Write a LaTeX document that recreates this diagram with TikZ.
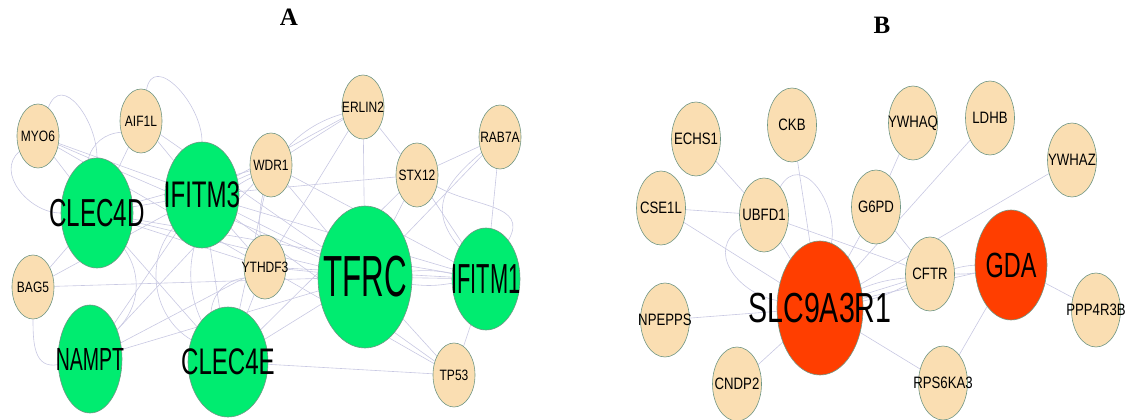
\documentclass[tikz,border=0pt]{standalone}
\usepackage{fontspec}
\setmainfont{Liberation Serif}
\newfontfamily\labfont{Liberation Sans}
\usetikzlibrary{shapes.geometric,backgrounds}

\definecolor{beige}{RGB}{250,222,178}
\definecolor{rim}{RGB}{112,150,132}
\definecolor{lime}{RGB}{0,236,112}
\definecolor{hot}{RGB}{255,62,0}
\definecolor{wire}{RGB}{200,200,226}

% gene label: condensed, does not widen its ellipse
\newcommand\gl[2][0.8]{\makebox[0pt]{\scalebox{#1}[1]{#2}}}
\newcommand\fs[1]{\labfont\fontsize{#1}{#1}\selectfont}

\begin{document}
\begin{tikzpicture}[x=1pt,y=-1pt,
  gene/.style={ellipse, draw=rim, line width=0.6pt, inner sep=0pt},
  sa/.style={gene, fill=beige, minimum width=42pt, minimum height=64pt, font=\fs{15}},
  sb/.style={gene, fill=beige, minimum width=49pt, minimum height=74pt, font=\fs{16.5}},
  hub/.style={gene, fill=lime},
  hubr/.style={gene, fill=hot},
  link/.style={draw=wire, line width=0.6pt},
  ttl/.style={font=\bfseries\fontsize{25}{25}\selectfont}]

\useasboundingbox (0,0) rectangle (1127,420);

% panel titles
\node[ttl] (ta) at (289,17) {A};
\node[ttl] (tb) at (882,25) {B};

% ---------------- network A ----------------
\node[sa] (myo6)   at (38,136)  {\gl{MYO6}};
\node[sa] (aif1l)  at (141,121) {\gl{AIF1L}};
\node[sa] (wdr1)   at (271,165) {\gl{WDR1}};
\node[sa] (erlin2) at (363,107) {\gl{ERLIN2}};
\node[sa] (rab7a)  at (500,137) {\gl{RAB7A}};
\node[sa] (stx12)  at (417,175) {\gl{STX12}};
\node[sa] (ythdf3) at (265,267) {\gl{YTHDF3}};
\node[sa] (bag5)   at (33,287)  {\gl{BAG5}};
\node[sa] (tp53)   at (454,375) {\gl{TP53}};

\node[hub, minimum width=72pt, minimum height=110pt, font=\fs{39}] (clec4d) at (97,213)  {\gl[0.62]{CLEC4D}};
\node[hub, minimum width=74pt, minimum height=106pt, font=\fs{37}] (ifitm3) at (202,195) {\gl[0.65]{IFITM3}};
\node[hub, minimum width=64pt, minimum height=108pt, font=\fs{32}] (nampt)  at (90,359)  {\gl[0.61]{NAMPT}};
\node[hub, minimum width=80pt, minimum height=110pt, font=\fs{37}] (clec4e) at (228,362) {\gl[0.65]{CLEC4E}};
\node[hub, minimum width=94pt, minimum height=142pt, font=\fs{58}] (tfrc)   at (365,277) {\gl[0.54]{TFRC}};
\node[hub, minimum width=68pt, minimum height=102pt, font=\fs{42}] (ifitm1) at (486,279) {\gl[0.52]{IFITM1}};

% ---------------- network B ----------------
\node[sb] (echs1)   at (696,139)  {\gl{ECHS1}};
\node[sb] (ckb)     at (792,125)  {\gl{CKB}};
\node[sb] (ywhaq)   at (913,123)  {\gl{YWHAQ}};
\node[sb] (ldhb)    at (990,118)  {\gl{LDHB}};
\node[sb] (ywhaz)   at (1072,160) {\gl{YWHAZ}};
\node[sb] (cse1l)   at (661,208)  {\gl{CSE1L}};
\node[sb] (ubfd1)   at (764,215)  {\gl{UBFD1}};
\node[sb] (g6pd)    at (876,207)  {\gl{G6PD}};
\node[sb] (cftr)    at (930,274)  {\gl{CFTR}};
\node[sb] (ppp4r3b) at (1096,310) {\gl{PPP4R3B}};
\node[sb] (rps6ka3) at (943,383)  {\gl{RPS6KA3}};
\node[sb] (npepps)  at (665,320)  {\gl{NPEPPS}};
\node[sb] (cndp2)   at (737,384)  {\gl{CNDP2}};

\node[hubr, minimum width=86pt, minimum height=134pt, font=\fs{42}] (slc) at (820,308)  {\gl[0.68]{SLC9A3R1}};
\node[hubr, minimum width=72pt, minimum height=110pt, font=\fs{35}] (gda) at (1011,265) {\gl[0.67]{GDA}};

\begin{scope}[on background layer]
% interactions, network A
\foreach \a/\b in {myo6/ifitm3, myo6/tfrc, myo6/ythdf3, myo6/clec4d,
  aif1l/ifitm3, aif1l/tfrc, aif1l/clec4d,
  clec4d/ifitm3, clec4d/tfrc, clec4d/ythdf3, clec4d/wdr1, clec4d/ifitm1, clec4d/clec4e,
  ifitm3/wdr1, ifitm3/erlin2, ifitm3/stx12, ifitm3/tfrc, ifitm3/ifitm1,
  ifitm3/ythdf3, ifitm3/clec4e, ifitm3/nampt, ifitm3/tp53,
  wdr1/erlin2, wdr1/tfrc, wdr1/ifitm1, wdr1/clec4e, wdr1/nampt,
  erlin2/tfrc, erlin2/stx12, erlin2/ythdf3,
  stx12/rab7a, stx12/ifitm1, stx12/tfrc, stx12/clec4e,
  rab7a/ifitm1, rab7a/tfrc,
  tfrc/ifitm1, tfrc/tp53, tfrc/ythdf3, tfrc/clec4e, tfrc/nampt,
  ifitm1/tp53, ifitm1/ythdf3,
  bag5/tfrc, bag5/clec4d, bag5/ifitm3,
  clec4e/tp53, clec4e/ythdf3, ythdf3/tp53, ythdf3/nampt}
  \draw[link] (\a) -- (\b);
\draw[link] (myo6) to[out=70,in=90,looseness=1.4] (clec4d);
\draw[link] (myo6) to[out=220,in=180,looseness=1.1] (clec4d);
\draw[link] (aif1l) to[out=80,in=90,looseness=1.3] (ifitm3);
\draw[link] (aif1l) to[bend right=35] (clec4d);
\draw[link] (bag5) to[out=270,in=190,looseness=1.2] (nampt);
\draw[link] (clec4d) to[bend left=40] (nampt);
\draw[link] (wdr1) to[bend right=45] (clec4e);
\draw[link] (erlin2) to[bend right=40] (ythdf3);
\draw[link] (ifitm3) to[bend right=50] (clec4e);
\draw[link] (stx12) to[out=-30,in=60,looseness=1.2] (ifitm1);
\draw[link] (rab7a) to[out=220,in=130,looseness=1.3] (ifitm1);
\draw[link] (tfrc) to[bend left=8] (ifitm1);
\draw[link] (tfrc) to[bend right=8] (ifitm1);
\draw[link] (ythdf3) to[bend right=40] (clec4e);

% interactions, network B
\foreach \a/\b in {echs1/ubfd1, cse1l/ubfd1, cse1l/slc, ckb/slc, ubfd1/slc,
  ubfd1/cftr, g6pd/slc, g6pd/ywhaq, ldhb/slc, ywhaz/slc, cftr/slc,
  slc/gda, gda/ppp4r3b, gda/rps6ka3, slc/rps6ka3, slc/npepps, slc/cndp2, g6pd/cftr}
  \draw[link] (\a) -- (\b);
\draw[link] (cftr) to[bend left=6] (gda);
\draw[link] (cftr) to[bend right=6] (gda);
\draw[link] (cftr) to[bend left=8] (slc);
\draw[link] (cftr) to[bend right=8] (slc);
\draw[link] (ubfd1) to[out=60,in=80,looseness=1.4] (slc);
\draw[link] (ubfd1) to[out=210,in=170,looseness=1.3] (slc);
\end{scope}
\end{tikzpicture}
\end{document}
